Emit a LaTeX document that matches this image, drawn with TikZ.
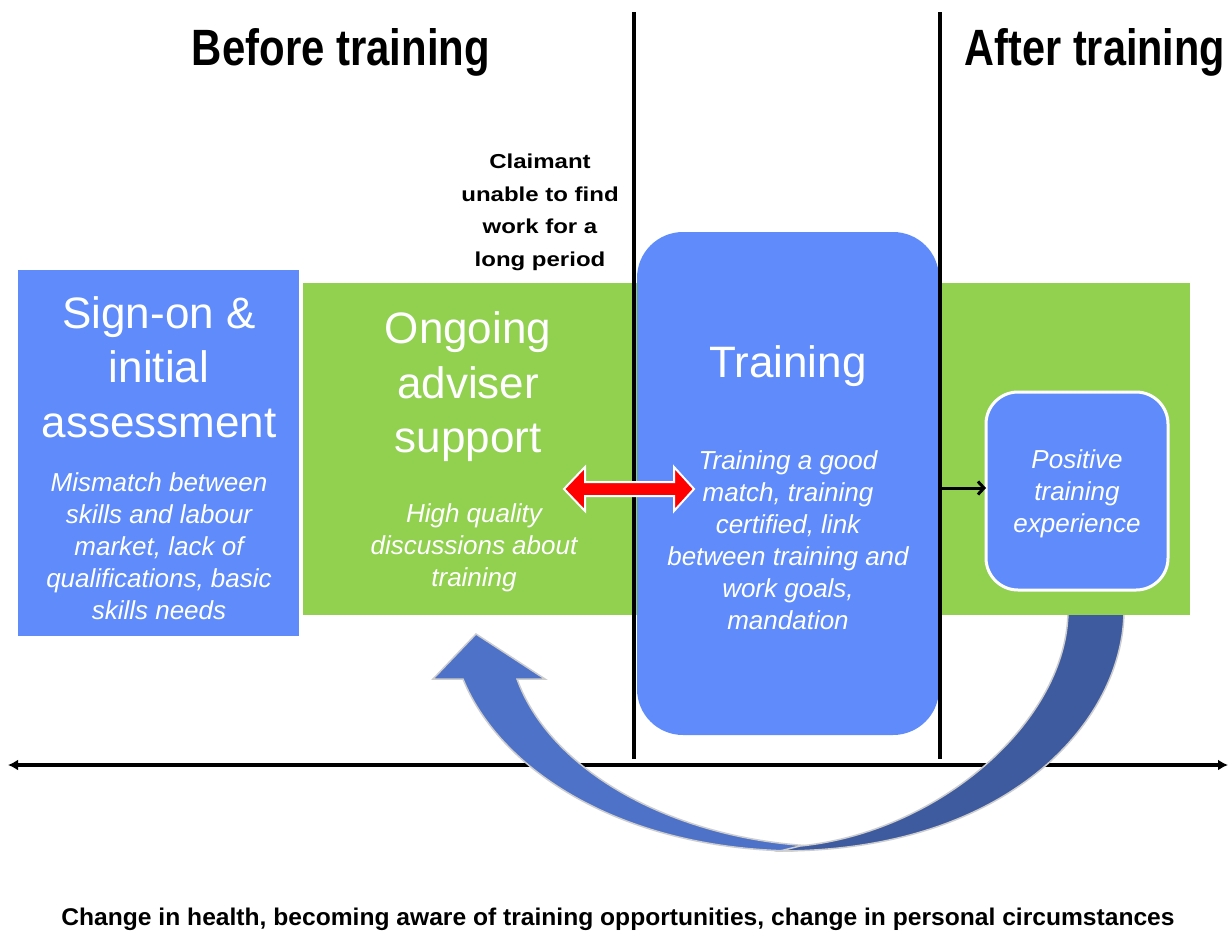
\documentclass[tikz,border=0pt]{standalone}
\usepackage{fontspec}
\setmainfont{Liberation Sans}
\usetikzlibrary{arrows.meta}
\definecolor{boxblue}{RGB}{95,140,250}
\definecolor{boxgreen}{RGB}{146,208,80}
\definecolor{arcL}{RGB}{78,114,199}
\definecolor{arcR}{RGB}{62,91,160}
\definecolor{arcEdge}{RGB}{205,205,205}
\tikzset{
  titletext/.style={text=white, align=center, font=\fontsize{44}{54.5}\selectfont, inner sep=0pt},
  bodytext/.style={text=white, align=center, font=\fontsize{26}{32}\selectfont\itshape, inner sep=0pt},
  plainbox/.style={inner sep=0pt, outer sep=0pt},
  divider/.style={line width=3.5pt, black},
  claimtext/.style={inner sep=0pt},
}
\begin{document}
\begin{tikzpicture}[x=1pt,y=-1pt]
\useasboundingbox (0,0) rectangle (1232,930);
\fill[white] (0,0) rectangle (1232,930);

% timeline
\coordinate (tl) at (8,765);
\coordinate (tr) at (1228,765);
\draw[line width=4pt, {Latex[length=10pt,width=11pt]}-{Latex[length=10pt,width=11pt]}] (tl) -- (tr);

% curved return arrow
\filldraw[fill=arcL, draw=arcEdge, line width=1.5pt]
  (792,851) .. controls (620,848) and (500,770) .. (463,679)
  -- (433,679) -- (476,634) -- (545,679) -- (517,679)
  .. controls (550,770) and (670,838) .. (812,846) -- cycle;
\filldraw[fill=arcR, draw=arcEdge, line width=1.5pt]
  (1124,610) .. controls (1124,720) and (1010,851) .. (780,851)
  -- (800,846) .. controls (940,832) and (1068,720) .. (1068,610) -- cycle;

% boxes
\node[plainbox, fill=boxgreen, minimum width=887pt, minimum height=332pt, anchor=north west] (green) at (303,283) {};
\node[plainbox, fill=boxblue, minimum width=281pt, minimum height=366pt, anchor=north west] (sign) at (18,270) {};
\node[plainbox, fill=boxblue, rounded corners=46pt, minimum width=302pt, minimum height=503pt, anchor=north west] (train) at (637,232) {};
\node[plainbox, fill=boxblue, draw=white, line width=3pt, rounded corners=32pt, minimum width=182pt, minimum height=198pt] (pos) at (1077,491) {};

% divider lines
\coordinate (d1t) at (634,12);
\coordinate (d1b) at (634,759);
\coordinate (d2t) at (940,12);
\coordinate (d2b) at (940,759);
\draw[divider] (d1t) -- (d1b);
\draw[divider] (d2t) -- (d2b);

% red double block arrow
\filldraw[fill=red, draw=white, line width=2pt, line join=miter]
  (564,489) -- (585,467) -- (585,482) -- (674,482) -- (674,467) -- (694,489)
  -- (674,511) -- (674,496) -- (585,496) -- (585,511) -- cycle;

% small arrow to positive box
\coordinate (smallstart) at (940,488);
\draw[line width=3pt, -{Straight Barb[length=6pt,width=13pt]}] (smallstart) -- (pos.west |- smallstart);

% headings
\node[anchor=base, inner sep=0pt] (before) at (341,65) {\resizebox{298pt}{37pt}{\bfseries Before training}};
\node[anchor=base, inner sep=0pt] (after) at (1095,65) {\resizebox{260pt}{37pt}{\bfseries After training}};
\node[claimtext] (claim) at (540,211) {\scalebox{1}[0.84]{\fontsize{24}{39}\selectfont\bfseries\begin{tabular}{@{}c@{}}Claimant\\unable to find\\work for a\\long period\end{tabular}}};

% box texts
\node[titletext] (signtitle) at (159,367) {Sign-on \&\\initial\\assessment};
\node[bodytext] (signbody) at (159,546) {Mismatch between\\skills and labour\\market, lack of\\qualifications, basic\\skills needs};
\node[titletext] (greentitle) at (468,387) {Ongoing\\adviser\\support};
\node[bodytext] (greenbody) at (474,548) {High quality\\discussions about\\training};
\node[titletext] (traintitle) at (788,366) {Training};
\node[bodytext] (trainbody) at (788,540) {Training a good\\match, training\\certified, link\\between training and\\work goals,\\mandation};
\node[bodytext] (posbody) at (1077,494) {Positive\\training\\experience};

% bottom caption
\node[anchor=base, inner sep=0pt] (caption) at (618,925) {\resizebox{1113pt}{17.5pt}{\bfseries Change in health, becoming aware of training opportunities, change in personal circumstances}};
\end{tikzpicture}
\end{document}
